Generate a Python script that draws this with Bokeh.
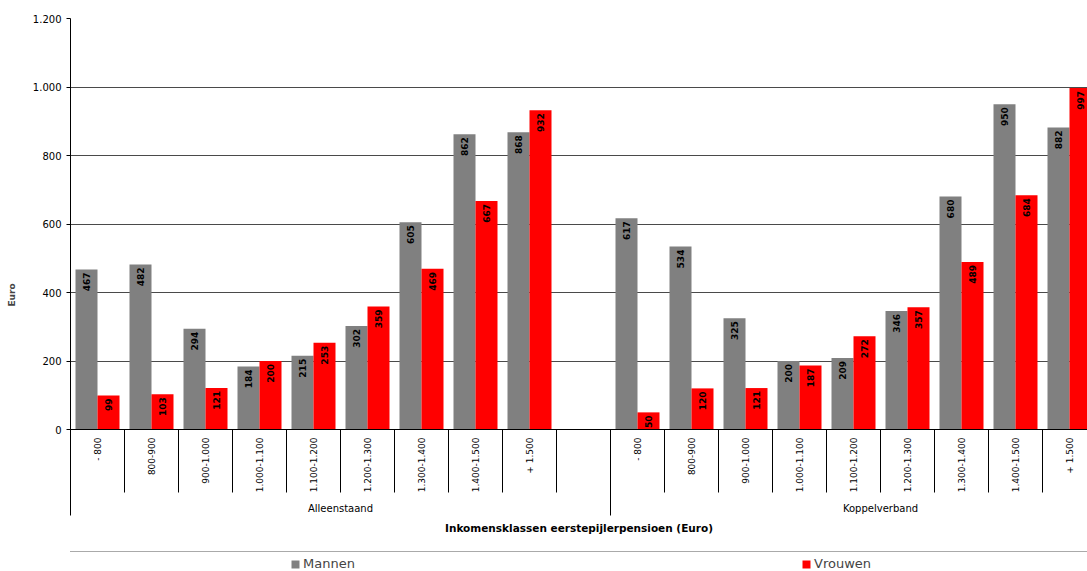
import math
from bokeh.plotting import figure
from bokeh.models import Range1d, FixedTicker, Span, Legend, LegendItem
from bokeh.embed import file_html
from bokeh.resources import INLINE
from bokeh.core.properties import value

# ---------------- data ----------------
categories = ["- 800", "800-900", "900-1.000", "1.000-1.100", "1.100-1.200",
              "1.200-1.300", "1.300-1.400", "1.400-1.500", "+ 1.500"]
groups = ["Alleenstaand", "Koppelverband"]
series_names = ["Mannen", "Vrouwen"]
alleen_mannen = [467, 482, 294, 184, 215, 302, 605, 862, 868]
alleen_vrouwen = [99, 103, 121, 200, 253, 359, 469, 667, 932]
koppel_mannen = [617, 534, 325, 200, 209, 346, 680, 950, 882]
koppel_vrouwen = [50, 120, 121, 187, 272, 357, 489, 684, 997]
y_ticks = [0, 200, 400, 600, 800, 1000, 1200]
y_tick_labels = ["0", "200", "400", "600", "800", "1.000", "1.200"]
x_title = "Inkomensklassen eerstepijlerpensioen (Euro)"
y_title = "Euro"

# ---------------- layout ----------------
FONT = value("DejaVu Sans")
W, H = 1087, 571
FRAME_LEFT, FRAME_TOP = 70, 18          # page px
ZERO_PX = 429                           # page px of y = 0
SLOT_PX = 54.0
GROUP_SLOTS = 10
k = (ZERO_PX - FRAME_TOP) / 1200.0      # px per euro


def yd(page_y):
    return (ZERO_PX - page_y) / k


frame_w = W - FRAME_LEFT
x_start = -0.5
x_end = x_start + frame_w / SLOT_PX
y_bottom = yd(H)

p = figure(width=W, height=H, output_backend="svg", toolbar_location=None,
           x_axis_type=None, x_range=Range1d(x_start, x_end),
           y_range=Range1d(y_bottom, 1200),
           min_border_left=FRAME_LEFT, min_border_right=0,
           min_border_top=FRAME_TOP, min_border_bottom=0)
p.outline_line_color = None
p.xgrid.visible = False
p.ygrid.ticker = FixedTicker(ticks=y_ticks[1:])
p.ygrid.grid_line_color = "#4a4a4a"

ax = p.yaxis[0]
ax.ticker = FixedTicker(ticks=y_ticks)
ax.major_label_overrides = {t: l for t, l in zip(y_ticks, y_tick_labels)}
ax.bounds = (yd(515), 1200)
ax.axis_line_color = "black"
ax.major_tick_line_color = "black"
ax.major_tick_out = 4
ax.major_tick_in = 0
ax.minor_tick_out = 0
ax.minor_tick_in = 0
ax.major_label_text_font = "DejaVu Sans"
ax.major_label_text_font_size = "10px"
ax.major_label_text_color = "black"
ax.axis_label = y_title
ax.axis_label_text_font = "DejaVu Sans"
ax.axis_label_text_font_style = "bold"
ax.axis_label_text_font_size = "9px"
ax.axis_label_standoff = 13

p.add_layout(Span(location=0, dimension="width", line_color="black", line_width=1))

# ---------------- bars ----------------
bw = 22 / SLOT_PX
mannen = alleen_mannen + koppel_mannen
vrouwen = alleen_vrouwen + koppel_vrouwen
slots = [g * GROUP_SLOTS + i for g in range(len(groups)) for i in range(len(categories))]
xm = [s - bw / 2 for s in slots]
xv = [s + bw / 2 for s in slots]

r_m = p.vbar(x=xm, top=mannen, width=bw, fill_color="#808080", line_color=None)
r_v = p.vbar(x=xv, top=vrouwen, width=bw, fill_color="#ff0000", line_color=None)

for xs, vals in ((xm, mannen), (xv, vrouwen)):
    p.text(x=xs, y=vals, text=[str(v) for v in vals], angle=math.pi / 2,
           text_align="right", text_baseline="middle", y_offset=3,
           text_font=FONT, text_font_style="bold", text_font_size="9px",
           text_color="black")

# ---------------- category axis ----------------
p.text(x=slots, y=[0] * len(slots), text=categories * len(groups), angle=math.pi / 2,
       text_align="right", text_baseline="middle", y_offset=8,
       text_font=FONT, text_font_size="9px", text_color="black")

short = [b + 0.5 for b in range(0, GROUP_SLOTS * len(groups) - 1) if b + 0.5 != GROUP_SLOTS - 0.5]
p.segment(x0=short, y0=[0] * len(short), x1=short, y1=[yd(492)] * len(short),
          line_color="black", line_width=1)
longb = [g * GROUP_SLOTS - 0.5 for g in range(1, len(groups))]
p.segment(x0=longb, y0=[0] * len(longb), x1=longb, y1=[yd(515)] * len(longb),
          line_color="black", line_width=1)

gcent = [g * GROUP_SLOTS + (GROUP_SLOTS - 1) / 2 for g in range(len(groups))]
p.text(x=gcent, y=[yd(508)] * len(groups), text=groups, text_align="center",
       text_baseline="middle", text_font=FONT, text_font_size="10px", text_color="black")

p.text(x=[(x_start + x_end) / 2], y=[yd(527)], text=[x_title], text_align="center",
       text_baseline="middle", text_font=FONT, text_font_style="bold",
       text_font_size="10.5px", text_color="black")

# ---------------- legend ----------------
# outer legend frame (an empty, invisible item only provides the bordered box)
r_none = p.scatter(x=[], y=[], size=1, fill_alpha=0, line_alpha=0)
box = Legend(items=[LegendItem(label="\u00a0", renderers=[r_none])],
             location=(63 - FRAME_LEFT, -32), orientation="horizontal",
             glyph_width=10, glyph_height=50, label_width=1100, label_standoff=0,
             padding=0, margin=0, border_line_color="#555555", border_line_width=1,
             background_fill_alpha=0, label_text_font_size="13px")
p.add_layout(box)

legend = Legend(items=[LegendItem(label=series_names[0], renderers=[r_m]),
                       LegendItem(label=series_names[1], renderers=[r_v])],
                location=(290 - FRAME_LEFT, 0), orientation="horizontal",
                glyph_width=10, glyph_height=10, label_standoff=3, label_width=60,
                label_height=10, spacing=801 - 290 - 10 - 3 - 60, padding=0, margin=0,
                border_line_color=None, background_fill_alpha=0,
                label_text_font="DejaVu Sans", label_text_font_size="13px")
p.add_layout(legend)

open("out.html", "w").write(file_html(p, INLINE))
